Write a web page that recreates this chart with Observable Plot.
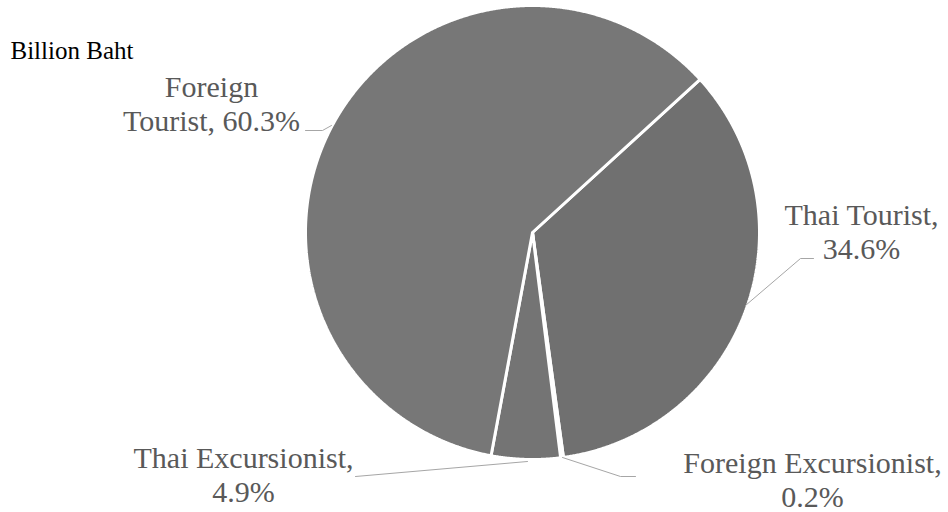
<!DOCTYPE html>
<html>
<head>
<meta charset="utf-8">
<script src="https://cdn.jsdelivr.net/npm/d3@7"></script>
<script src="https://cdn.jsdelivr.net/npm/@observablehq/plot@0.6"></script>
<style>
  html, body { margin: 0; padding: 0; background: #fff; }
  #chart svg { display: block; }
</style>
</head>
<body>
<div id="chart"></div>
<script>
// ---- data ----
const categories = ["Thai Tourist", "Foreign Excursionist", "Thai Excursionist", "Foreign Tourist"];
const shares = [34.6, 0.2, 4.9, 60.3];
const unitLabel = "Billion Baht";

// ---- layout / style ----
const W = 948, H = 512;
const CX = 532, CY = 232, R = 227, START = 47.6; // degrees clockwise from 12 o'clock
const sliceColors = ["#707070", "#767676", "#747474", "#777777"];
const labelLines = {
  "Thai Tourist": (c, p) => `${c},\n${p}%`,
  "Foreign Excursionist": (c, p) => `${c},\n${p}%`,
  "Thai Excursionist": (c, p) => `${c},\n${p}%`,
  "Foreign Tourist": (c, p) => `Foreign\nTourist, ${p}%`
};
const labelPos = {            // centre x, baseline of last line (px)
  "Thai Tourist": [861, 258],
  "Foreign Excursionist": [812, 506],
  "Thai Excursionist": [243, 501],
  "Foreign Tourist": [211, 130]
};
const leaderPos = {
  "Thai Tourist": [[813, 258], [800, 258], [745, 305]],
  "Foreign Excursionist": [[562, 457], [620, 476], [635, 476]],
  "Thai Excursionist": [[527, 461], [355, 476]],
  "Foreign Tourist": [[305, 130], [322, 130], [331, 125]]
};

const toX = px => (px - CX) / R;
const toY = py => (CY - py) / R;

// slice geometry from the shares (unit circle space)
const total = d3.sum(shares);
let acc = START;
const slices = categories.map((c, i) => {
  const a0 = acc, a1 = acc + shares[i] / total * 360;
  acc = a1;
  const pts = [{x: 0, y: 0}];
  const n = Math.max(2, Math.ceil((a1 - a0) / 0.25));
  for (let k = 0; k <= n; k++) {
    const a = (a0 + (a1 - a0) * k / n) * Math.PI / 180;
    pts.push({x: Math.sin(a), y: Math.cos(a)});
  }
  pts.push({x: 0, y: 0});
  return {cat: c, color: sliceColors[i], pts};
});

const labels = categories.map((c, i) => ({
  text: labelLines[c](c, shares[i]),
  x: toX(labelPos[c][0]),
  y: toY(labelPos[c][1])
}));

const leaders = categories.flatMap(c =>
  leaderPos[c].map(([px, py]) => ({cat: c, x: toX(px), y: toY(py)}))
);

const serif = "'Liberation Serif', 'Times New Roman', serif";

const chart = Plot.plot({
  width: W,
  height: H,
  margin: 0,
  style: {background: "#fff", overflow: "visible"},
  x: {domain: [toX(0), toX(W)], range: [0, W], axis: null},
  y: {domain: [toY(H), toY(0)], range: [H, 0], axis: null},
  marks: [
    ...slices.map(s => Plot.line(s.pts, {
      x: "x", y: "y", fill: s.color, stroke: "#fff", strokeWidth: 3,
      strokeLinejoin: "miter", curve: "linear"
    })),
    Plot.line(leaders, {x: "x", y: "y", z: "cat", stroke: "#a6a6a6", strokeWidth: 1, curve: "linear"}),
    Plot.text(labels, {
      x: "x", y: "y", text: "text",
      fontSize: 30, fontFamily: serif, fill: "#595959",
      textAnchor: "middle", lineAnchor: "bottom", lineHeight: 1.13
    }),
    Plot.text([unitLabel], {
      x: toX(10), y: toY(58), text: d => d,
      fontSize: 25, fontFamily: serif, fill: "#000",
      textAnchor: "start", lineAnchor: "bottom"
    })
  ]
});

document.getElementById("chart").appendChild(chart);
</script>
</body>
</html>
